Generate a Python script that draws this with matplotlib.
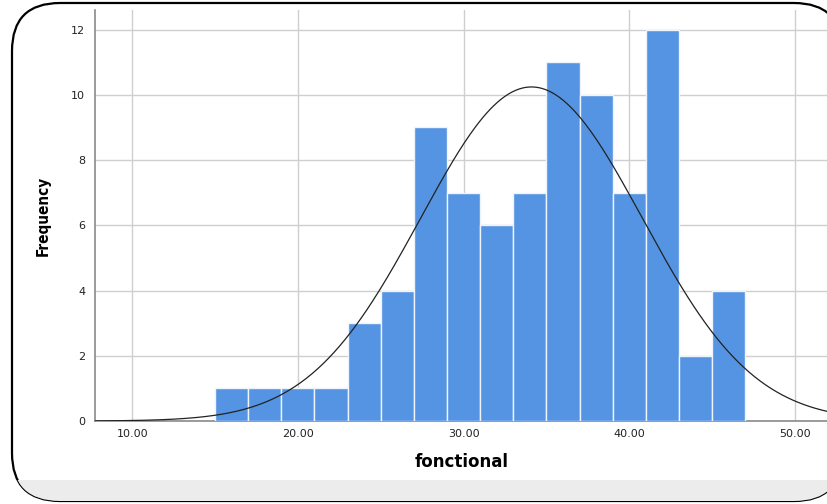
import numpy as np
import matplotlib.pyplot as plt
from matplotlib.patches import FancyBboxPatch, Rectangle
from matplotlib.transforms import IdentityTransform

# binned scores (left edge of each bin, width 2)
bin_left = [15, 17, 19, 21, 23, 25, 27, 29, 31, 33, 35, 37, 39, 41, 43, 45]
counts = [1, 1, 1, 1, 3, 4, 9, 7, 6, 7, 11, 10, 7, 12, 2, 4]
bin_width = 2

# normal curve parameters
curve_mean = 34.1
curve_sd = 6.7

x_ticks = [10, 20, 30, 40, 50]
x_tick_labels = ['10.00', '20.00', '30.00', '40.00', '50.00']
y_ticks = [0, 2, 4, 6, 8, 10, 12]

BAR_COLOR = '#5594e3'
GRID_COLOR = '#cfcfcf'

fig = plt.figure(figsize=(8.28, 5.04), dpi=100)

# rounded frame (pixel coordinates, origin bottom-left) with a grey band at the bottom
frame = FancyBboxPatch((12, 3), 830, 498,
                       boxstyle='round,pad=0,rounding_size=48',
                       transform=IdentityTransform(), facecolor='white',
                       edgecolor='black', linewidth=1.6, zorder=-2)
fig.patches.append(frame)
band = Rectangle((0, 0), 1, 24 / 504, transform=fig.transFigure,
                 facecolor='#ececec', edgecolor='none', zorder=-1)
band.set_clip_path(frame)
fig.patches.append(band)

ax = fig.add_axes([95 / 828, 83 / 504, 733 / 828, 411 / 504])
ax.set_facecolor('none')

ax.bar(bin_left, counts, width=bin_width, align='edge', color=BAR_COLOR,
       edgecolor='#eef4fc', linewidth=1.0, zorder=3)

xs = np.linspace(7.75, 52, 400)
total = sum(counts)
ys = total * bin_width / (curve_sd * np.sqrt(2 * np.pi)) * \
    np.exp(-0.5 * ((xs - curve_mean) / curve_sd) ** 2)
ax.plot(xs, ys, color='#222222', linewidth=0.9, zorder=4)

ax.set_xlim(7.75, 52)
ax.set_ylim(0, 12.6)
ax.set_xticks(x_ticks)
ax.set_xticklabels(x_tick_labels)
ax.set_yticks(y_ticks)
ax.tick_params(length=0, labelsize=8, colors='#222222', pad=6)
ax.tick_params(axis='y', pad=7)

ax.grid(True, color=GRID_COLOR, linewidth=1.0, zorder=0)
ax.set_axisbelow(True)
for side in ('top', 'right'):
    ax.spines[side].set_visible(False)
for side in ('left', 'bottom'):
    ax.spines[side].set_color('#8a8a8a')
    ax.spines[side].set_linewidth(1.2)

ax.set_xlabel('fonctional', fontsize=12, fontweight='bold', labelpad=10)
ax.set_ylabel('Frequency', fontsize=11, fontweight='bold', labelpad=15,
              family='DejaVu Sans', fontstretch='condensed')

fig.savefig('out.png', dpi=100)
